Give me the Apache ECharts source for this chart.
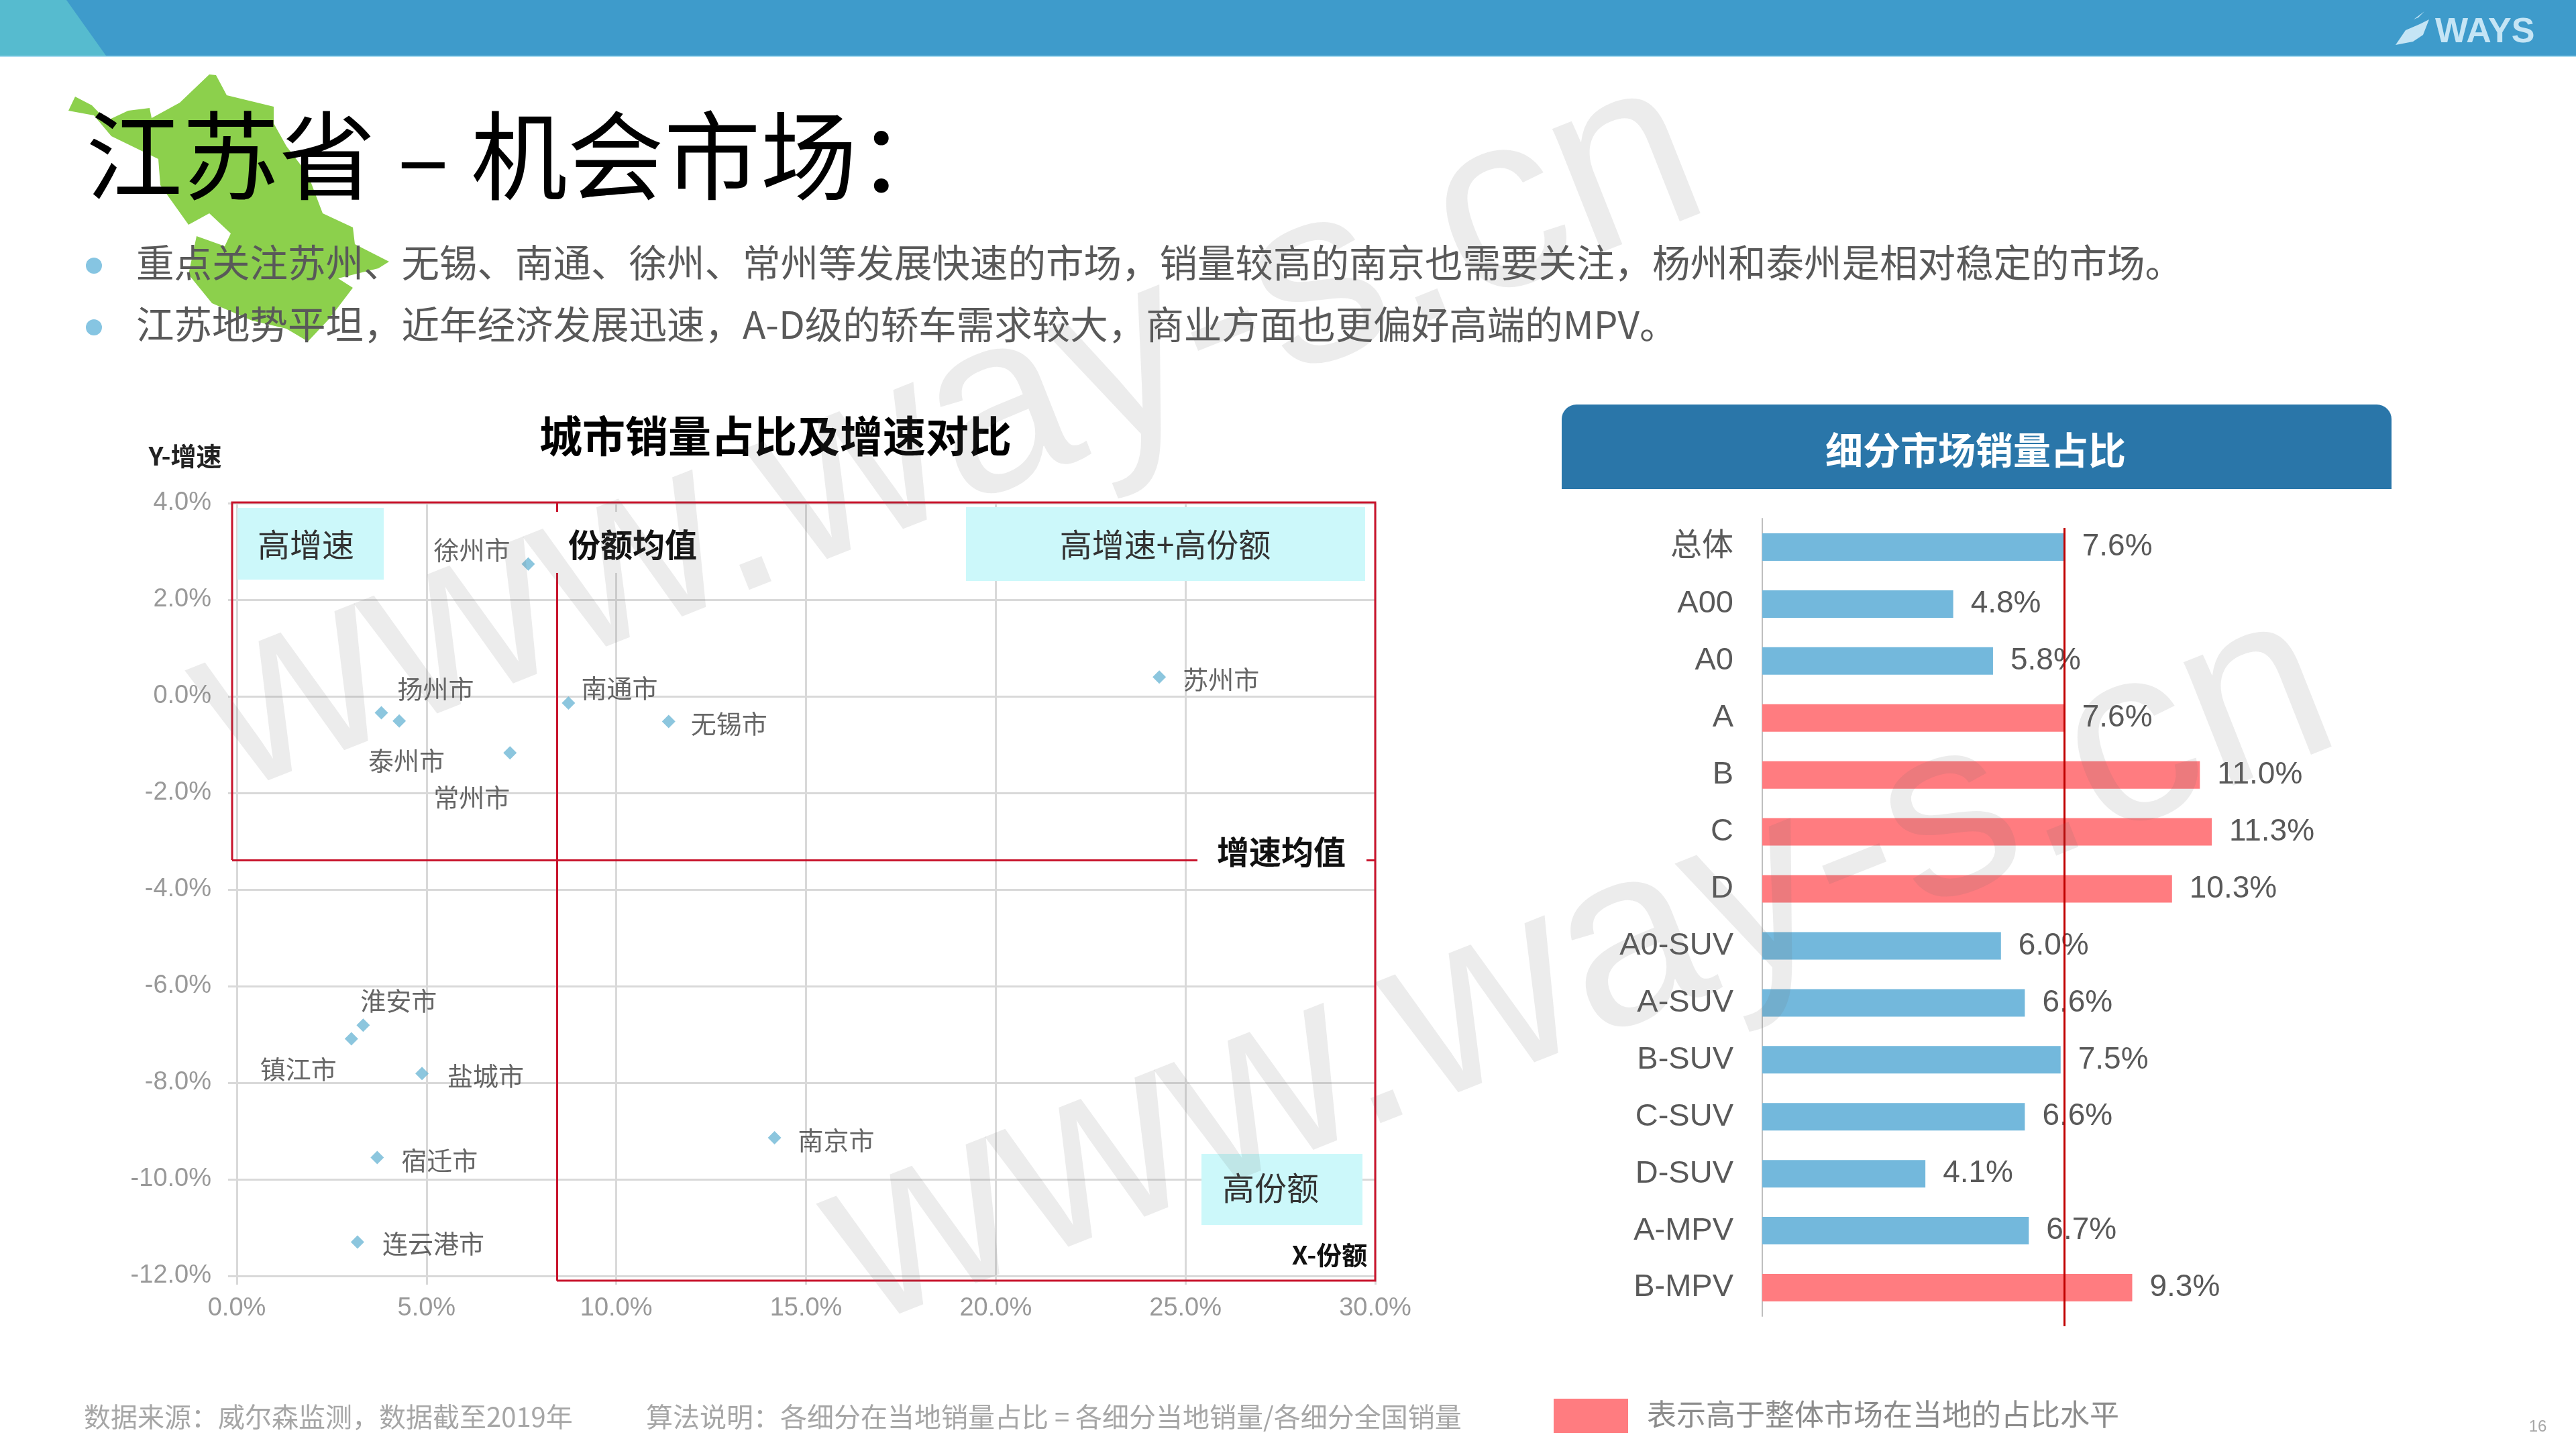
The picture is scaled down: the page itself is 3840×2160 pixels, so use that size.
<!DOCTYPE html>
<html><head><meta charset="utf-8">
<style>html,body{margin:0;padding:0;background:#fff}#c{width:3840px;height:2160px}</style>
<script src="https://cdn.jsdelivr.net/npm/echarts@6/dist/echarts.min.js"></script>
</head><body><div id="c"></div>
<script>
// ---- data ----
const cityNames = ['徐州市','南通市','扬州市','泰州市','常州市','无锡市','苏州市','南京市','淮安市','镇江市','盐城市','宿迁市','连云港市'];
const cityShare = [7.68,8.74,3.81,4.28,7.2,11.38,24.31,14.17,3.33,3.02,4.88,3.7,3.18];
const cityGrowth = [2.74,-0.14,-0.34,-0.51,-1.17,-0.52,0.4,-9.14,-6.81,-7.09,-7.81,-9.55,-11.3];
const meanShare = 8.43;
const meanGrowth = -3.39;
const segments = ['总体','A00','A0','A','B','C','D','A0-SUV','A-SUV','B-SUV','C-SUV','D-SUV','A-MPV','B-MPV'];
const segmentShare = [7.6,4.8,5.8,7.6,11.0,11.3,10.3,6.0,6.6,7.5,6.6,4.1,6.7,9.3];
const segmentAbove = [false,false,false,true,true,true,true,false,false,false,false,false,false,true];
const overallShare = 7.6;
const xTicks = {min:0,max:30,step:5};
const yTicks = {min:-12,max:4,step:2};
const bullets = ['重点关注苏州、无锡、南通、徐州、常州等发展快速的市场，销量较高的南京也需要关注，杨州和泰州是相对稳定的市场。','江苏地势平坦，近年经济发展迅速，A-D级的轿车需求较大，商业方面也更偏好高端的MPV。'];

// ---- layout / style ----
const labelOffsets = [[-84,-21],[76,-23],[81,-36],[11,59],[-57,66],[90,3],[92,3],[92,3],[53,-37],[-79,45],[95,3],[93,4],[113,2]];
const FF = '"Noto Sans CJK SC","Liberation Sans",sans-serif';
const LF = '"Liberation Sans","Noto Sans CJK SC",sans-serif';
const RED = '#C8142C', FRAME = RED;
const mapOutline = [[312,111],[322,112],[338,142],[408,159],[408,184],[427,218],[459,260],[481,318],[526,339],[529,364],[580,390],[564,400],[504,415],[526,429],[491,475],[459,509],[427,490],[376,478],[316,452],[281,409],[293,352],[335,367],[344,348],[312,318],[281,335],[239,276],[236,237],[166,203],[140,172],[102,165],[112,144],[137,157],[159,180],[191,165],[223,161],[226,176],[268,153]];

function txt(text,x,y,size,color,opts){opts=opts||{};
  return {type:'text',z:opts.z||50,x:x,y:y,rotation:opts.rot||0,silent:true,style:{text:text,x:0,y:0,fill:color,
    font:(opts.weight||'normal')+' '+size+'px '+(opts.ff||FF),textAlign:opts.align||'left',textVerticalAlign:'middle',textBaseline:'middle'}};
}
function rect(x,y,w,h,fill,z,r){return {type:'rect',z:z,silent:true,shape:{x:x,y:y,width:w,height:h,r:r||0},style:{fill:fill}};}
function poly(points,fill,z){return {type:'polygon',z:z,silent:true,shape:{points:points},style:{fill:fill}};}

const graphics = [
  rect(0,0,3840,83,'#3E9BCB',1),
  rect(0,83,3840,2,'#A9DCF0',1),
  poly([[0,0],[99,0],[158,83],[0,83]],'#56BBCF',2),
  poly([[3571,67],[3586,45],[3607,36],[3621,29],[3612,52],[3597,62]],'#C5E5F5',3),
  poly([[3598,29],[3614,17],[3605,26]],'#C5E5F5',3),
  txt('WAYS',3630,49,52,'#C5E5F5',{ff:LF,weight:'bold',z:3}),
  poly(mapOutline,'#8CD04C',2),
  txt('江苏省 – 机会市场：',128,232,144,'#000',{z:10}),
  {type:'circle',z:3,silent:true,shape:{cx:140,cy:396,r:12},style:{fill:'#86C5E2'}},
  {type:'circle',z:3,silent:true,shape:{cx:140,cy:488,r:12},style:{fill:'#86C5E2'}},
  txt(bullets[0],203,392,56.5,'#595959',{z:10}),
  txt(bullets[1],203,484,56.5,'#595959',{z:10}),
  txt('城市销量占比及增速对比',1156,650,64,'#000',{weight:'bold',align:'center'}),
  txt('Y-增速',276,680,38,'#222',{weight:'bold',align:'center'}),
  // quadrant tags
  rect(354,757,218,107,'#CCF8FA',5),
  txt('高增速',456,812,48,'#333',{align:'center'}),
  rect(1440,756,595,110,'#CCF8FA',5),
  txt('高增速+高份额',1737,812,48,'#333',{align:'center'}),
  rect(1791,1720,240,106,'#CCF8FA',5),
  txt('高份额',1894,1771,48,'#333',{align:'center'}),
  rect(822,763,240,91,'#fff',5),
  txt('份额均值',943,812,48,'#111',{weight:'bold',align:'center'}),
  rect(1785,1245,252,54,'#fff',5),
  txt('增速均值',1910,1270,48,'#111',{weight:'bold',align:'center'}),
  txt('X-份额',1982,1871,38,'#111',{weight:'bold',align:'center'}),
  {type:'polyline',z:6,silent:true,shape:{points:[[346,1282],[346,749],[2050,749],[2050,1909],[830,1909]]},style:{stroke:FRAME,lineWidth:3,fill:null}},
  // right panel header
  {type:'rect',z:5,silent:true,shape:{x:2328,y:603,width:1237,height:126,r:[22,22,0,0]},style:{fill:'#2A76A9'}},
  txt('细分市场销量占比',2945,671,56,'#fff',{weight:'bold',align:'center',z:6}),
  // footer
  txt('数据来源：威尔森监测，数据截至2019年',125,2112,40,'#A6A6A6'),
  txt('算法说明：各细分在当地销量占比 = 各细分当地销量/各细分全国销量',963,2112,40,'#A6A6A6'),
  rect(2316,2085,111,51,'#FF7C80',5),
  txt('表示高于整体市场在当地的占比水平',2455,2108,44,'#8C8C8C'),
  txt('16',3783,2127,24,'#A6A6A6',{ff:LF,align:'center'}),
  // watermarks
  txt('www.way-s.cn',1415,650,375,'rgba(110,110,110,0.13)',{ff:LF,align:'center',rot:0.377,z:100}),
  txt('www.way-s.cn',2356,1445,375,'rgba(110,110,110,0.13)',{ff:LF,align:'center',rot:0.377,z:100})
];

const axisGray = '#D9D9D9';
const option = {
  animation:false,
  backgroundColor:'#fff',
  graphic:{elements:graphics},
  grid:[
    {left:353,top:750,width:1697,height:1152,containLabel:false},
    {left:2627,top:773,width:889.5,height:1189,containLabel:false}
  ],
  xAxis:[
    {type:'value',gridIndex:0,min:xTicks.min,max:xTicks.max,interval:xTicks.step,
     axisLine:{show:true,onZero:false,lineStyle:{color:axisGray,width:3}},
     axisTick:{show:true,length:13,lineStyle:{color:axisGray,width:3}},
     splitLine:{show:true,lineStyle:{color:axisGray,width:3}},
     axisLabel:{show:true,color:'#999',fontSize:38,fontFamily:LF,margin:30,formatter:v=>v.toFixed(1)+'%',hideOverlap:false}},
    {type:'value',gridIndex:1,min:0,max:15,show:false,splitLine:{show:false}}
  ],
  yAxis:[
    {type:'value',gridIndex:0,min:yTicks.min,max:yTicks.max,interval:yTicks.step,
     axisLine:{show:true,onZero:false,lineStyle:{color:axisGray,width:3}},
     axisTick:{show:true,length:13,lineStyle:{color:axisGray,width:3}},
     splitLine:{show:true,lineStyle:{color:axisGray,width:3}},
     axisLabel:{show:true,color:'#999',fontSize:38,fontFamily:LF,margin:38,formatter:v=>v.toFixed(1)+'%',hideOverlap:false}},
    {type:'category',gridIndex:1,data:segments,inverse:true,
     axisLine:{show:true,lineStyle:{color:'#BFBFBF',width:2}},axisTick:{show:false},splitLine:{show:false},
     axisLabel:{color:'#595959',fontSize:47,fontFamily:LF,margin:43,interval:0}}
  ],
  series:[
    {type:'scatter',xAxisIndex:0,yAxisIndex:0,symbol:'diamond',symbolSize:20,z:7,
     itemStyle:{color:'#6FB8D6'},
     label:{show:true,position:'inside',formatter:p=>p.name,color:'#404040',fontSize:38,fontFamily:FF},
     labelLayout:null,
     data:cityNames.map((n,i)=>({name:n,value:[cityShare[i],cityGrowth[i]],label:{offset:labelOffsets[i]}})),
     markLine:{silent:true,symbol:'none',label:{show:false},animation:false,z:4,
       lineStyle:{color:RED,width:3,type:'solid'},
       data:[
         [{xAxis:meanShare,y:749},{xAxis:meanShare,y:1909}],
         [{yAxis:meanGrowth,x:346},{yAxis:meanGrowth,x:2050}]
       ]}},
    {type:'bar',xAxisIndex:1,yAxisIndex:1,barWidth:41,z:3,
     data:segmentShare.map((v,i)=>({value:v,itemStyle:{color:segmentAbove[i]?'#FF7C80':'#73B8DC'}})),
     label:{show:true,position:'right',distance:26,color:'#595959',fontSize:46,fontFamily:LF,formatter:p=>p.value.toFixed(1)+'%'},
     markLine:{silent:true,symbol:'none',label:{show:false},animation:false,z:8,
       lineStyle:{color:'#C00000',width:3,type:'solid'},
       data:[[{xAxis:overallShare,y:787},{xAxis:overallShare,y:1977}]]}}
  ]
};
echarts.init(document.getElementById('c'),null,{renderer:'canvas',width:3840,height:2160}).setOption(option);
</script></body></html>
